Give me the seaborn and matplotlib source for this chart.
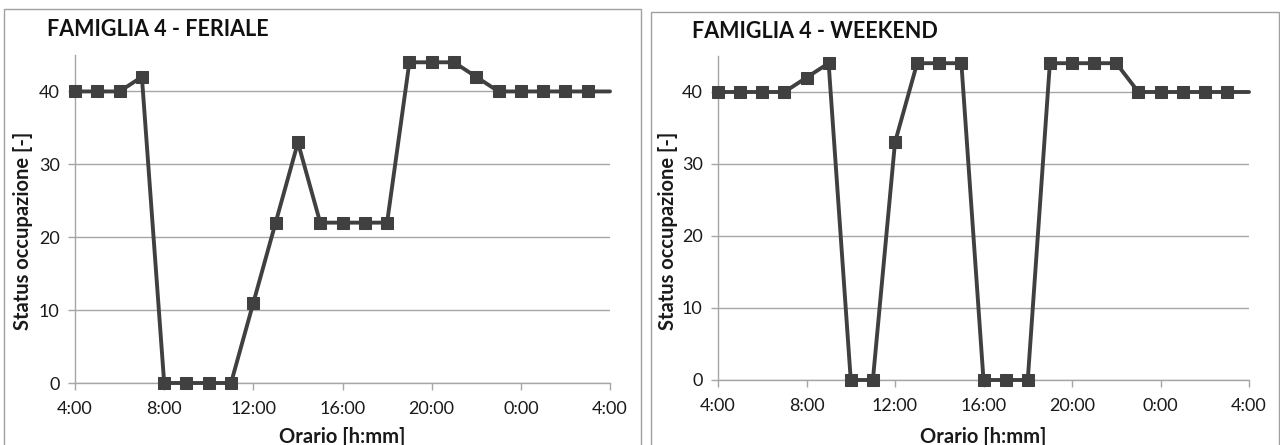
import matplotlib
matplotlib.use("Agg")
import matplotlib.pyplot as plt
import matplotlib.patches as mpatches
import seaborn as sns
import pandas as pd

sns.set_style("white")
plt.rcParams['font.family'] = ['Lato', 'DejaVu Sans']

# hours from 4:00 (4) to next day 4:00 (28)
hours = [4, 5, 6, 7, 8, 9, 10, 11, 12, 13, 14, 15, 16, 17, 18, 19, 20, 21, 22, 23,
         24, 25, 26, 27, 28]
feriale = [40, 40, 40, 42, 0, 0, 0, 0, 11, 22, 33, 22, 22, 22, 22, 44, 44, 44, 42, 40,
           40, 40, 40, 40, 40]
weekend = [40, 40, 40, 40, 42, 44, 0, 0, 33, 44, 44, 44, 0, 0, 0, 44, 44, 44, 44, 40,
           40, 40, 40, 40, 40]
xtick_pos = [4, 8, 12, 16, 20, 24, 28]
xtick_labels = ["4:00", "8:00", "12:00", "16:00", "20:00", "0:00", "4:00"]
ytick_pos = [0, 10, 20, 30, 40]
titles = ["FAMIGLIA 4 - FERIALE", "FAMIGLIA 4 - WEEKEND"]
ylabel = "Status occupazione [-]"
xlabel = "Orario [h:mm]"

fig = plt.figure(figsize=(12.8, 4.45), dpi=100)
W, H = 1280, 445

def fx(px):
    return px / W

def fy(py):
    return 1 - py / H

line_col = "#404040"
grid_col = "#a6a6a6"

panels = [
    dict(ax=(75, 55, 610, 383), border=(4, 9, 641, 460), title=(47, 29), ylab_x=23, data=feriale),
    dict(ax=(718, 56, 1249, 380), border=(651, 12, 1279, 460), title=(692, 32), ylab_x=668, data=weekend),
]

for i, p in enumerate(panels):
    bx0, by0, bx1, by1 = p["border"]
    fig.patches.append(mpatches.Rectangle((fx(bx0), fy(by1)), fx(bx1 - bx0), (by1 - by0) / H,
                                          transform=fig.transFigure, fill=False,
                                          edgecolor="#a0a0a0", linewidth=1.0, zorder=0))
    x0, y0, x1, y1 = p["ax"]
    ax = fig.add_axes([fx(x0), fy(y1), fx(x1 - x0), (y1 - y0) / H])
    df = pd.DataFrame({"ora": hours, "val": p["data"]})
    sns.lineplot(data=df, x="ora", y="val", ax=ax, color=line_col, linewidth=2.8,
                 marker="s", markersize=8, markeredgecolor=line_col,
                 markevery=list(range(len(hours) - 1)), clip_on=False, zorder=3)
    ax.set_xlim(4, 28)
    ax.set_ylim(0, 45)
    ax.set_xticks(xtick_pos)
    ax.set_xticklabels(xtick_labels)
    ax.set_yticks(ytick_pos)
    ax.yaxis.grid(True, color=grid_col, linewidth=1.0)
    ax.xaxis.grid(False)
    for s in ["top", "right"]:
        ax.spines[s].set_visible(False)
    for s in ["left", "bottom"]:
        ax.spines[s].set_color(grid_col)
        ax.spines[s].set_linewidth(1.0)
    ax.tick_params(axis="both", direction="out", length=5, width=1.0, color=grid_col,
                   labelsize=13, labelcolor="#1a1a1a")
    ax.tick_params(axis="x", pad=8, bottom=True)
    ax.tick_params(axis="y", pad=6, left=True)
    ax.set_xlabel("")
    ax.set_ylabel("")
    fig.text(fx(p["title"][0]), fy(p["title"][1]), titles[i], fontsize=15.5, fontweight="bold",
             ha="left", va="center", color="#111111")
    fig.text(fx(p["ylab_x"]), fy(231), ylabel, rotation=90, fontsize=14.5, fontweight="bold",
             ha="center", va="center", color="#1a1a1a")
    fig.text(fx((x0 + x1) / 2), fy(437), xlabel, fontsize=14.5, fontweight="bold",
             ha="center", va="center", color="#1a1a1a")

fig.savefig("out.png", dpi=100, facecolor="white")
